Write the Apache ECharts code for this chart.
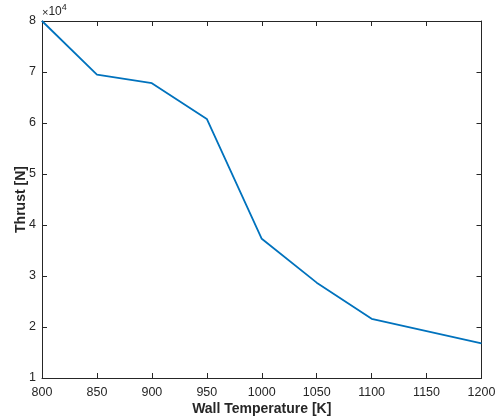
<!DOCTYPE html>
<html>
<head>
<meta charset="utf-8">
<script src="https://cdn.jsdelivr.net/npm/echarts@6/dist/echarts.min.js"></script>
<style>
  html, body { margin: 0; padding: 0; background: #fff; }
  #chart { width: 497px; height: 418px; }
</style>
</head>
<body>
<div id="chart"></div>
<script>
var wallTemp = [800, 850, 900, 950, 1000, 1050, 1100, 1200];
var thrust = [80000, 69500, 67800, 60800, 37300, 28700, 21600, 16800];

var chart = echarts.init(document.getElementById('chart'));

var axisColor = '#262626';
var font = 'Liberation Sans, Arial, Helvetica, sans-serif';

function xAx(pos, showLabel) {
    return {
        type: 'value',
        position: pos,
        min: 800,
        max: 1200,
        interval: 50,
        axisLine: { show: true, onZero: false, lineStyle: { color: axisColor, width: 1 } },
        axisTick: { show: true, inside: true, length: 5, lineStyle: { color: axisColor } },
        axisLabel: {
            show: showLabel, color: axisColor, fontSize: 12.5, fontFamily: font, margin: 8,
            formatter: function (v) { return String(v); }
        },
        splitLine: { show: false },
        name: showLabel ? 'Wall Temperature [K]' : '',
        nameLocation: 'middle',
        nameGap: 24,
        nameMoveOverlap: false,
        nameTextStyle: { color: axisColor, fontSize: 14, fontWeight: 'bold', fontFamily: font }
    };
}

function yAx(pos, showLabel) {
    return {
        type: 'value',
        position: pos,
        min: 10000,
        max: 80000,
        interval: 10000,
        axisLine: { show: true, onZero: false, lineStyle: { color: axisColor, width: 1 } },
        axisTick: { show: true, inside: true, length: 5, lineStyle: { color: axisColor } },
        axisLabel: {
            show: showLabel, color: axisColor, fontSize: 12.5, fontFamily: font, margin: 6,
            formatter: function (v) { return String(v / 10000); }
        },
        splitLine: { show: false },
        name: showLabel ? 'Thrust [N]' : '',
        nameLocation: 'middle',
        nameGap: 14,
        nameMoveOverlap: false,
        nameTextStyle: { color: axisColor, fontSize: 14, fontWeight: 'bold', fontFamily: font }
    };
}

var option = {
    animation: false,
    backgroundColor: '#fff',
    grid: { left: 42, right: 15.5, top: 21, bottom: 40, containLabel: false, outerBoundsMode: 'none' },
    xAxis: [xAx('bottom', true), xAx('top', false)],
    yAxis: [yAx('left', true), yAx('right', false)],
    graphic: [{
        type: 'text',
        left: 42,
        top: 3,
        style: {
            text: '{x|×}{b|10}{s|4}',
            rich: {
                x: { fontSize: 11, fontFamily: font, fill: axisColor, verticalAlign: 'bottom' },
                b: { fontSize: 12, fontFamily: font, fill: axisColor, verticalAlign: 'bottom' },
                s: { fontSize: 9, fontFamily: font, fill: axisColor, verticalAlign: 'top', padding: [0, 0, 6, 0] }
            }
        }
    }],
    series: [{
        type: 'line',
        data: wallTemp.map(function (t, i) { return [t, thrust[i]]; }),
        showSymbol: false,
        lineStyle: { color: '#0072BD', width: 1.8 },
        itemStyle: { color: '#0072BD' }
    }]
};

chart.setOption(option);
</script>
</body>
</html>
